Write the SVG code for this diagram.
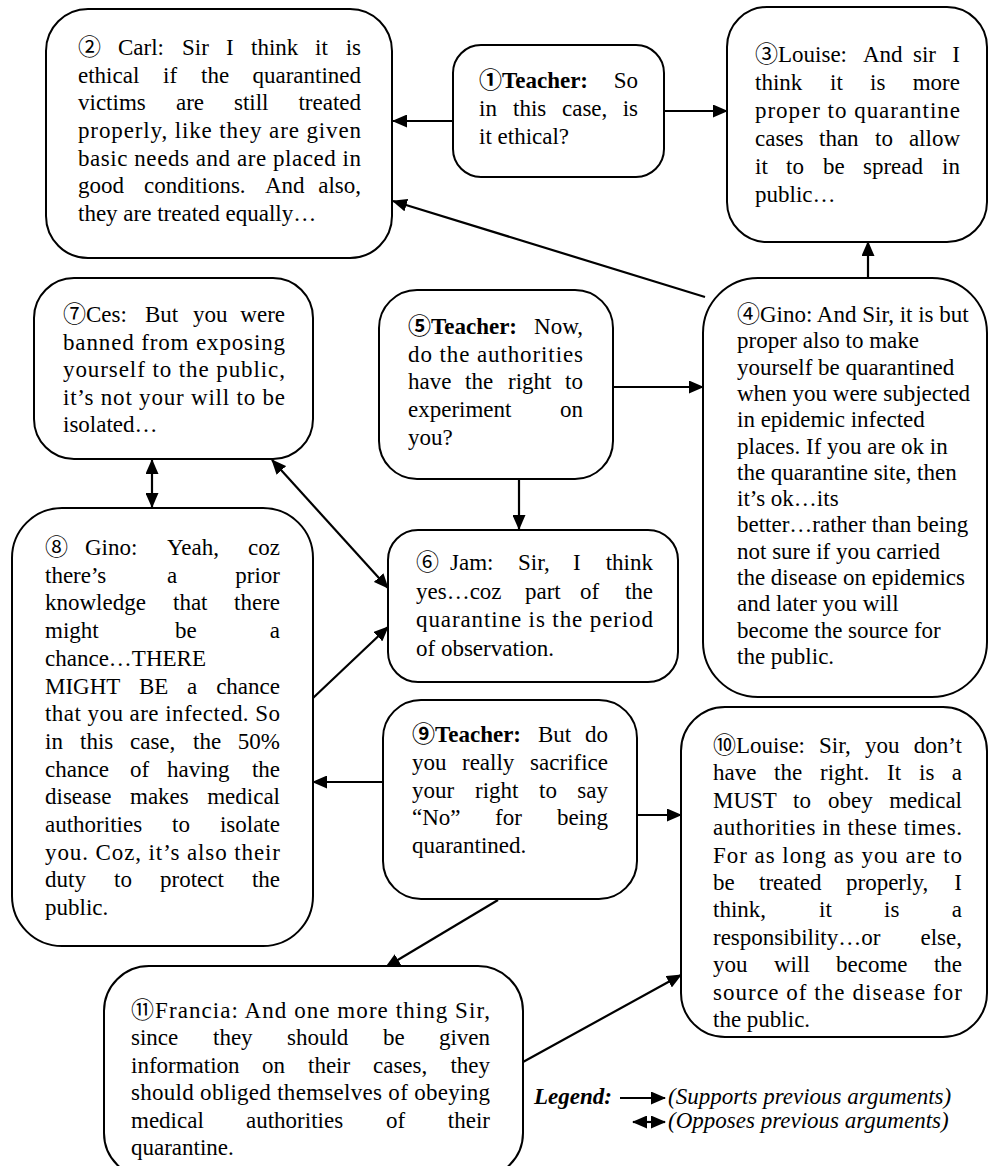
<svg xmlns="http://www.w3.org/2000/svg" width="988" height="1166" viewBox="0 0 988 1166">
<style>
  .box { fill: #fff; stroke: #000; stroke-width: 2; }
  .t { font-family: "Liberation Serif", "Noto Sans CJK JP", serif; font-size: 23px; fill: #000; }
  .b { font-weight: bold; }
  .lg { font-family: "Liberation Serif", "Noto Sans CJK JP", serif; font-size: 23px; font-style: italic; fill: #000; }
  .link { fill: none; stroke: #000; stroke-width: 2.2; marker-end: url(#ah); }
  .both { marker-start: url(#ah); }
</style>
<defs>
  <marker id="ah" viewBox="0 0 15 13" refX="14" refY="6.5" markerWidth="15" markerHeight="13" markerUnits="userSpaceOnUse" orient="auto-start-reverse">
    <path d="M0,0 L15,6.5 L0,13 Z" fill="#000"/>
  </marker>
</defs>
<rect width="988" height="1166" fill="#fff"/>

<!-- connectors -->
<g id="connectors">
  <path class="link" d="M453,121 L393,121"/>
  <path class="link" d="M664,111 L727,111"/>
  <path class="link" d="M868,278 L868,242"/>
  <path class="link" d="M705,297 L393,201"/>
  <path class="link" d="M613,387 L703,387"/>
  <path class="link" d="M519,479 L519,529"/>
  <path class="link both" d="M152,460 L152,507"/>
  <path class="link both" d="M272,460 L388,588"/>
  <path class="link" d="M313,698 L388,627"/>
  <path class="link" d="M383,782 L313,782"/>
  <path class="link" d="M637,815 L681,815"/>
  <path class="link" d="M498,900 L386,967"/>
  <path class="link" d="M523,1062 L681,975"/>
</g>

<!-- 1 Teacher -->
<g id="n1">
  <rect class="box" x="453" y="45" width="211" height="132" rx="28"/>
  <text class="t" y="88"><tspan x="479" class="b">①Teacher:</tspan><tspan x="638" text-anchor="end">So</tspan></text>
  <text class="t" y="116"><tspan x="479">in</tspan><tspan x="513">this</tspan><tspan x="562">case,</tspan><tspan x="638" text-anchor="end">is</tspan></text>
  <text class="t" x="479" y="144">it ethical?</text>
</g>

<!-- 2 Carl -->
<g id="n2">
  <rect class="box" x="46" y="9" width="346" height="249" rx="42"/>
  <text class="t" y="55"><tspan x="78">②</tspan><tspan x="118">Carl:</tspan><tspan x="182">Sir</tspan><tspan x="226">I</tspan><tspan x="251">think</tspan><tspan x="315">it</tspan><tspan x="361" text-anchor="end">is</tspan></text>
  <text class="t" y="82.7"><tspan x="78">ethical</tspan><tspan x="163">if</tspan><tspan x="201">the</tspan><tspan x="361" text-anchor="end">quarantined</tspan></text>
  <text class="t" y="110.3"><tspan x="78">victims</tspan><tspan x="176">are</tspan><tspan x="234">still</tspan><tspan x="361" text-anchor="end">treated</tspan></text>
  <text class="t" x="78" y="138" textLength="283" lengthAdjust="spacing">properly, like they are given</text>
  <text class="t" x="78" y="165.7" textLength="283" lengthAdjust="spacing">basic needs and are placed in</text>
  <text class="t" y="193.3"><tspan x="78">good</tspan><tspan x="144">conditions.</tspan><tspan x="265">And</tspan><tspan x="361" text-anchor="end">also,</tspan></text>
  <text class="t" x="78" y="221">they are treated equally…</text>
</g>

<!-- 3 Louise -->
<g id="n3">
  <rect class="box" x="727" y="7" width="260" height="235" rx="40"/>
  <text class="t" y="62"><tspan x="755">③Louise:</tspan><tspan x="863">And</tspan><tspan x="913">sir</tspan><tspan x="960" text-anchor="end">I</tspan></text>
  <text class="t" y="90"><tspan x="755">think</tspan><tspan x="830">it</tspan><tspan x="870">is</tspan><tspan x="960" text-anchor="end">more</tspan></text>
  <text class="t" x="755" y="118" textLength="205" lengthAdjust="spacing">proper to quarantine</text>
  <text class="t" y="146"><tspan x="755">cases</tspan><tspan x="819">than</tspan><tspan x="875">to</tspan><tspan x="960" text-anchor="end">allow</tspan></text>
  <text class="t" y="174"><tspan x="755">it</tspan><tspan x="786">to</tspan><tspan x="823">be</tspan><tspan x="863">spread</tspan><tspan x="960" text-anchor="end">in</tspan></text>
  <text class="t" x="755" y="202">public…</text>
</g>

<!-- 4 Gino -->
<g id="n4">
  <rect class="box" x="703" y="278" width="284" height="419" rx="55"/>
  <text class="t" x="737" y="322">④Gino: And Sir, it is but</text>
  <text class="t" x="737" y="348.3">proper also to make</text>
  <text class="t" x="737" y="374.6">yourself be quarantined</text>
  <text class="t" x="737" y="400.9">when you were subjected</text>
  <text class="t" x="737" y="427.2">in epidemic infected</text>
  <text class="t" x="737" y="453.5">places. If you are ok in</text>
  <text class="t" x="737" y="479.8">the quarantine site, then</text>
  <text class="t" x="737" y="506.1">it’s ok…its</text>
  <text class="t" x="737" y="532.4">better…rather than being</text>
  <text class="t" x="737" y="558.7">not sure if you carried</text>
  <text class="t" x="737" y="585">the disease on epidemics</text>
  <text class="t" x="737" y="611.3">and later you will</text>
  <text class="t" x="737" y="637.6">become the source for</text>
  <text class="t" x="737" y="663.9">the public.</text>
</g>

<!-- 5 Teacher -->
<g id="n5">
  <rect class="box" x="379" y="290" width="234" height="189" rx="38"/>
  <text class="t" y="334"><tspan x="408" class="b">⑤Teacher:</tspan><tspan x="583" text-anchor="end">Now,</tspan></text>
  <text class="t" x="408" y="361.7" textLength="175" lengthAdjust="spacing">do the authorities</text>
  <text class="t" y="389.4"><tspan x="408">have</tspan><tspan x="465">the</tspan><tspan x="508">right</tspan><tspan x="583" text-anchor="end">to</tspan></text>
  <text class="t" y="417.1"><tspan x="408">experiment</tspan><tspan x="583" text-anchor="end">on</tspan></text>
  <text class="t" x="408" y="444.8">you?</text>
</g>

<!-- 6 Jam -->
<g id="n6">
  <rect class="box" x="388" y="530" width="290" height="152" rx="30"/>
  <text class="t" y="570"><tspan x="416">⑥</tspan><tspan x="450">Jam:</tspan><tspan x="518">Sir,</tspan><tspan x="573">I</tspan><tspan x="653" text-anchor="end">think</tspan></text>
  <text class="t" y="598.5"><tspan x="416">yes…coz</tspan><tspan x="525">part</tspan><tspan x="580">of</tspan><tspan x="653" text-anchor="end">the</tspan></text>
  <text class="t" x="416" y="627" textLength="237" lengthAdjust="spacing">quarantine is the period</text>
  <text class="t" x="416" y="655.5">of observation.</text>
</g>

<!-- 7 Ces -->
<g id="n7">
  <rect class="box" x="34" y="278" width="279" height="181" rx="40"/>
  <text class="t" y="322"><tspan x="63">⑦Ces:</tspan><tspan x="145">But</tspan><tspan x="193">you</tspan><tspan x="285" text-anchor="end">were</tspan></text>
  <text class="t" x="63" y="349.6" textLength="222" lengthAdjust="spacing">banned from exposing</text>
  <text class="t" x="63" y="377.2" textLength="222" lengthAdjust="spacing">yourself to the public,</text>
  <text class="t" x="63" y="404.8" textLength="222" lengthAdjust="spacing">it’s not your will to be</text>
  <text class="t" x="63" y="432.4">isolated…</text>
</g>

<!-- 8 Gino -->
<g id="n8">
  <rect class="box" x="12" y="508" width="301" height="438" rx="50"/>
  <text class="t" y="555"><tspan x="45">⑧</tspan><tspan x="85">Gino:</tspan><tspan x="167">Yeah,</tspan><tspan x="280" text-anchor="end">coz</tspan></text>
  <text class="t" y="582.7"><tspan x="45">there’s</tspan><tspan x="167">a</tspan><tspan x="280" text-anchor="end">prior</tspan></text>
  <text class="t" y="610.4"><tspan x="45">knowledge</tspan><tspan x="173">that</tspan><tspan x="280" text-anchor="end">there</tspan></text>
  <text class="t" y="638.1"><tspan x="45">might</tspan><tspan x="175">be</tspan><tspan x="280" text-anchor="end">a</tspan></text>
  <text class="t" x="45" y="665.8">chance…THERE</text>
  <text class="t" y="693.5"><tspan x="45">MIGHT</tspan><tspan x="139">BE</tspan><tspan x="187">a</tspan><tspan x="280" text-anchor="end">chance</tspan></text>
  <text class="t" x="45" y="721.2" textLength="235" lengthAdjust="spacing">that you are infected. So</text>
  <text class="t" y="748.9"><tspan x="45">in</tspan><tspan x="80">this</tspan><tspan x="130">case,</tspan><tspan x="193">the</tspan><tspan x="280" text-anchor="end">50%</tspan></text>
  <text class="t" y="776.6"><tspan x="45">chance</tspan><tspan x="130">of</tspan><tspan x="167">having</tspan><tspan x="280" text-anchor="end">the</tspan></text>
  <text class="t" y="804.3"><tspan x="45">disease</tspan><tspan x="130">makes</tspan><tspan x="280" text-anchor="end">medical</tspan></text>
  <text class="t" y="832"><tspan x="45">authorities</tspan><tspan x="172">to</tspan><tspan x="280" text-anchor="end">isolate</tspan></text>
  <text class="t" x="45" y="859.7" textLength="235" lengthAdjust="spacing">you. Coz, it’s also their</text>
  <text class="t" y="887.4"><tspan x="45">duty</tspan><tspan x="114">to</tspan><tspan x="160">protect</tspan><tspan x="280" text-anchor="end">the</tspan></text>
  <text class="t" x="45" y="915.1">public.</text>
</g>

<!-- 9 Teacher -->
<g id="n9">
  <rect class="box" x="383" y="700" width="254" height="199" rx="38"/>
  <text class="t" y="742"><tspan x="412" class="b">⑨Teacher:</tspan><tspan x="538">But</tspan><tspan x="608" text-anchor="end">do</tspan></text>
  <text class="t" y="769.8"><tspan x="412">you</tspan><tspan x="462">really</tspan><tspan x="608" text-anchor="end">sacrifice</tspan></text>
  <text class="t" y="797.6"><tspan x="412">your</tspan><tspan x="475">right</tspan><tspan x="539">to</tspan><tspan x="608" text-anchor="end">say</tspan></text>
  <text class="t" y="825.4"><tspan x="412">“No”</tspan><tspan x="495">for</tspan><tspan x="608" text-anchor="end">being</tspan></text>
  <text class="t" x="412" y="853.2">quarantined.</text>
</g>

<!-- 10 Louise -->
<g id="n10">
  <rect class="box" x="681" y="707" width="306" height="330" rx="44"/>
  <text class="t" y="753"><tspan x="713">⑩Louise:</tspan><tspan x="819">Sir,</tspan><tspan x="865">you</tspan><tspan x="962" text-anchor="end">don’t</tspan></text>
  <text class="t" y="780.4"><tspan x="713">have</tspan><tspan x="774">the</tspan><tspan x="820">right.</tspan><tspan x="887">It</tspan><tspan x="919">is</tspan><tspan x="962" text-anchor="end">a</tspan></text>
  <text class="t" y="807.8"><tspan x="713">MUST</tspan><tspan x="793">to</tspan><tspan x="828">obey</tspan><tspan x="962" text-anchor="end">medical</tspan></text>
  <text class="t" x="713" y="835.2" textLength="249" lengthAdjust="spacing">authorities in these times.</text>
  <text class="t" x="713" y="862.6" textLength="249" lengthAdjust="spacing">For as long as you are to</text>
  <text class="t" y="890"><tspan x="713">be</tspan><tspan x="759">treated</tspan><tspan x="846">properly,</tspan><tspan x="962" text-anchor="end">I</tspan></text>
  <text class="t" y="917.4"><tspan x="713">think,</tspan><tspan x="819">it</tspan><tspan x="884">is</tspan><tspan x="962" text-anchor="end">a</tspan></text>
  <text class="t" y="944.8"><tspan x="713">responsibility…or</tspan><tspan x="962" text-anchor="end">else,</tspan></text>
  <text class="t" y="972.2"><tspan x="713">you</tspan><tspan x="774">will</tspan><tspan x="836">become</tspan><tspan x="962" text-anchor="end">the</tspan></text>
  <text class="t" x="713" y="999.6" textLength="249" lengthAdjust="spacing">source of the disease for</text>
  <text class="t" x="713" y="1027">the public.</text>
</g>

<!-- 11 Francia -->
<g id="n11">
  <rect class="box" x="104" y="966" width="419" height="212" rx="45"/>
  <text class="t" x="131" y="1018" textLength="359" lengthAdjust="spacing">⑪Francia: And one more thing Sir,</text>
  <text class="t" y="1045.4"><tspan x="131">since</tspan><tspan x="213">they</tspan><tspan x="287">should</tspan><tspan x="383">be</tspan><tspan x="490" text-anchor="end">given</tspan></text>
  <text class="t" y="1072.8"><tspan x="131">information</tspan><tspan x="262">on</tspan><tspan x="308">their</tspan><tspan x="373">cases,</tspan><tspan x="490" text-anchor="end">they</tspan></text>
  <text class="t" x="131" y="1100.2" textLength="359" lengthAdjust="spacing">should obliged themselves of obeying</text>
  <text class="t" y="1127.6"><tspan x="131">medical</tspan><tspan x="246">authorities</tspan><tspan x="386">of</tspan><tspan x="490" text-anchor="end">their</tspan></text>
  <text class="t" x="131" y="1155">quarantine.</text>
</g>

<!-- legend -->
<g id="legend">
  <text class="lg b" x="534" y="1104">Legend:</text>
  <path class="link" d="M620,1098 L665,1098"/>
  <text class="lg" x="668" y="1104">(Supports previous arguments)</text>
  <path class="link both" d="M633,1122 L665,1122"/>
  <text class="lg" x="668" y="1128">(Opposes previous arguments)</text>
</g>
</svg>
